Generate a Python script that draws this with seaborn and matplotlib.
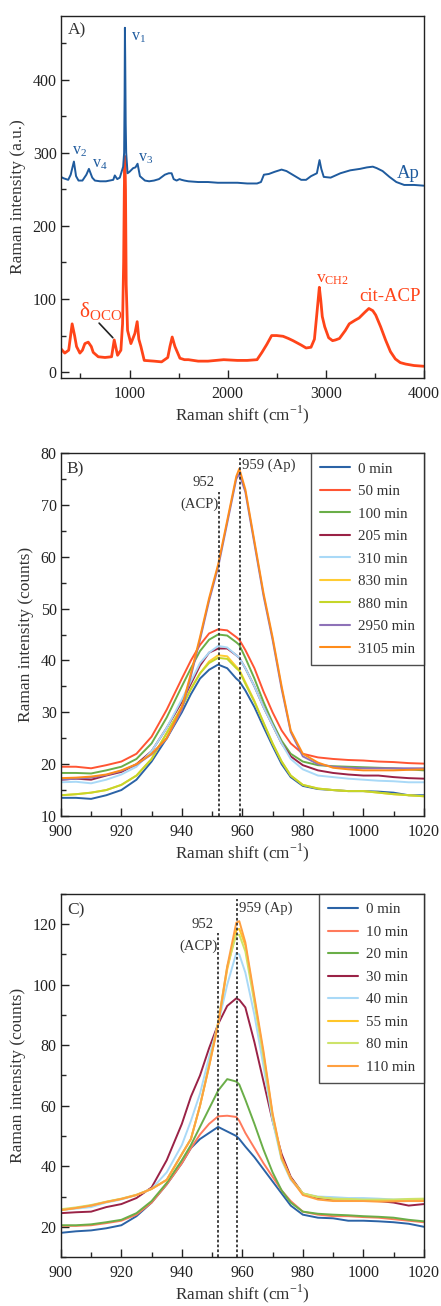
import numpy as np
import pandas as pd
import matplotlib
matplotlib.use("Agg")
import matplotlib.pyplot as plt
import seaborn as sns

# ---- panel A: full spectra ----
ap_shift = [300, 330, 375, 400, 433, 455, 480, 520, 560, 586, 620, 647, 700, 760, 834, 850, 875,
            901, 935, 945, 950, 953, 956, 961, 966, 980, 1000, 1037, 1060, 1082, 1106, 1157, 1200,
            1250, 1300, 1360, 1400, 1429, 1450, 1480, 1510, 1530, 1560, 1600, 1700, 1800, 1900,
            2000, 2100, 2200, 2300, 2340, 2370, 2420, 2480, 2550, 2600, 2650, 2700, 2750, 2800,
            2850, 2910, 2937, 2955, 2980, 3050, 3150, 3250, 3350, 3420, 3480, 3520, 3580, 3650,
            3720, 3800, 3900, 4000]
ap_int = [267, 265, 263, 270, 288, 268, 262, 262, 270, 278, 266, 262, 261, 261, 263, 269, 264,
          266, 281, 300, 380, 471, 430, 340, 300, 272, 274, 279, 280, 285, 268, 262, 261,
          262, 264, 270, 272, 272, 264, 262, 264, 263, 262, 261, 260, 260, 259,
          259, 259, 258, 258, 260, 270, 271, 274, 277, 275, 271, 267, 263, 263,
          268, 272, 290, 278, 267, 266, 272, 276, 278, 280, 281, 279, 275, 267,
          260, 256, 256, 255]

acp_shift = [300, 340, 380, 415, 440, 460, 494, 520, 545, 579, 610, 630, 681, 750, 817, 844, 878,
             912, 929, 940, 947, 953, 959, 966, 980, 1014, 1055, 1078, 1095, 1116, 1150, 1250,
             1327, 1390, 1412, 1435, 1463, 1514, 1560, 1600, 1700, 1800, 1960, 2100, 2200, 2300,
             2350, 2400, 2449, 2500, 2565, 2620, 2667, 2750, 2800, 2850, 2885, 2910, 2935, 2950,
             2965, 2990, 3030, 3070, 3100, 3140, 3200, 3240, 3300, 3340, 3400, 3440, 3480, 3510,
             3560, 3610, 3660, 3710, 3760, 3815, 3900, 4000]
acp_int = [32, 26, 30, 66, 50, 35, 26, 30, 39, 41, 35, 27, 21, 20, 21, 44, 23,
           30, 66, 150, 250, 295, 250, 120, 57, 39, 53, 69, 45, 35, 16, 15,
           14, 20, 35, 48, 35, 19, 17, 17, 15, 15, 17, 16, 16, 17,
           27, 38, 50, 50, 49, 46, 43, 37, 33, 34, 45, 80, 116, 98,
           76, 62, 47, 43, 44, 46, 57, 66, 71, 74, 82, 87, 84, 78,
           62, 44, 28, 18, 13, 11, 9, 8]

# ---- panels B and C: zoom on the v1 band ----
shift = [900, 905, 910, 915, 920, 925, 930, 935, 940, 943, 946, 949, 952, 955, 958, 959, 961,
         964, 967, 970, 973, 976, 980, 985, 990, 995, 1000, 1005, 1010, 1015, 1020]

b_series = {
    "0 min":    [13.5, 13.5, 13.3, 14.0, 15.0, 17.0, 20.5, 25.0, 30.0, 33.5, 36.5, 38.2, 39.2, 38.5, 36.5, 36.0, 34.2,
                 31.0, 27.2, 23.5, 20.0, 17.5, 15.8, 15.2, 15.0, 14.8, 14.8, 14.7, 14.5, 14.0, 14.0],
    "50 min":   [19.5, 19.5, 19.2, 19.8, 20.5, 22.0, 25.3, 30.5, 36.5, 40.0, 43.0, 45.2, 46.0, 45.8, 44.5, 44.0, 42.0,
                 38.5, 34.0, 30.0, 26.5, 24.0, 22.0, 21.3, 21.0, 20.8, 20.7, 20.5, 20.4, 20.2, 20.1],
    "100 min":  [18.3, 18.3, 18.2, 18.8, 19.5, 21.0, 24.0, 29.0, 35.0, 38.5, 41.8, 44.0, 45.0, 44.8, 43.5, 43.0, 40.5,
                 36.5, 32.0, 28.0, 24.5, 22.0, 20.5, 19.8, 19.6, 19.5, 19.4, 19.3, 19.2, 19.0, 18.8],
    "205 min":  [17.0, 17.2, 17.0, 17.8, 18.5, 20.0, 22.5, 27.0, 32.0, 35.5, 39.0, 41.5, 42.3, 42.3, 41.0, 40.5, 38.5,
                 35.0, 31.0, 27.5, 24.0, 21.5, 19.8, 18.8, 18.3, 18.0, 17.8, 17.8, 17.5, 17.3, 17.2],
    "310 min":  [16.5, 16.6, 16.3, 17.0, 18.0, 19.5, 22.5, 27.0, 32.5, 36.0, 39.5, 41.5, 42.8, 42.5, 41.0, 40.5, 38.5,
                 35.0, 31.0, 27.5, 24.0, 21.0, 19.0, 17.8, 17.5, 17.2, 17.0, 16.8, 16.7, 16.5, 16.5],
    "830 min":  [14.0, 14.2, 14.5, 15.0, 16.0, 17.8, 21.0, 26.0, 31.0, 34.5, 37.5, 39.8, 41.0, 40.8, 38.8, 38.2, 35.8,
                 32.2, 28.0, 24.0, 20.5, 17.8, 16.0, 15.3, 15.0, 14.8, 14.8, 14.5, 14.2, 14.0, 13.8],
    "880 min":  [14.0, 14.2, 14.5, 15.0, 16.0, 17.8, 21.0, 26.0, 31.0, 34.5, 37.5, 39.5, 40.5, 40.3, 38.5, 38.0, 35.5,
                 32.0, 28.0, 24.0, 20.5, 17.8, 16.0, 15.3, 15.0, 14.8, 14.8, 14.5, 14.2, 14.0, 13.8],
    "2950 min": [17.0, 17.2, 17.4, 17.9, 18.7, 19.9, 21.9, 24.9, 30.5, 37.0, 44.0, 51.5, 58.0, 66.5, 75.0, 76.0, 72.5,
                 62.5, 52.5, 44.0, 34.5, 26.2, 21.5, 20.0, 19.5, 19.3, 19.2, 19.2, 19.2, 19.2, 19.2],
    "3105 min": [17.3, 17.4, 17.6, 18.0, 18.8, 20.0, 22.0, 25.0, 31.0, 37.5, 44.5, 52.0, 58.5, 67.0, 75.5, 77.0, 73.0,
                 63.0, 53.0, 44.5, 35.0, 26.5, 22.0, 20.3, 19.3, 19.0, 18.8, 18.8, 18.8, 18.9, 19.0],
}
b_colors = ["#2b63a6", "#ff5533", "#6aae48", "#9a2246", "#a9d9f7",
            "#ffcc33", "#c5d629", "#8e72b8", "#ff8c1a"]

c_series = {
    "0 min":   [18.0, 18.5, 18.8, 19.5, 20.5, 23.5, 28.0, 34.0, 41.0, 46.0, 49.0, 51.0, 53.0, 51.5, 50.0, 49.0, 46.5,
                43.0, 39.0, 35.0, 31.0, 27.0, 24.0, 23.0, 22.8, 22.0, 22.0, 21.8, 21.5, 21.0, 20.0],
    "10 min":  [20.3, 20.3, 20.5, 21.2, 22.0, 24.0, 28.0, 34.0, 41.0, 46.0, 50.5, 54.0, 56.5, 56.7, 56.3, 55.0, 51.0,
                46.0, 41.0, 36.5, 32.0, 28.5, 25.0, 24.0, 23.5, 23.5, 23.2, 23.0, 22.5, 22.0, 21.5],
    "20 min":  [20.5, 20.5, 20.8, 21.5, 22.3, 24.5, 28.5, 34.5, 42.0, 47.0, 53.0, 59.0, 65.0, 68.8, 68.0, 67.0, 62.0,
                54.0, 45.5, 38.0, 32.0, 28.0, 25.0, 24.3, 24.0, 23.8, 23.5, 23.3, 23.0, 22.3, 21.8],
    "30 min":  [24.5, 24.8, 25.0, 26.5, 27.5, 29.5, 33.0, 42.0, 54.0, 63.0, 70.0, 79.0, 87.0, 93.0, 95.5, 95.0, 92.5,
                81.0, 68.0, 55.0, 44.0, 36.5, 31.0, 29.5, 29.0, 29.0, 28.8, 28.5, 28.0, 27.0, 27.5],
    "40 min":  [25.5, 26.0, 26.5, 28.0, 29.0, 30.5, 32.5, 38.0, 47.0, 55.0, 64.0, 76.0, 87.0, 100.0, 110.5, 110.0, 104.0,
                90.0, 73.0, 55.0, 42.0, 35.5, 31.0, 30.0, 29.8, 29.5, 29.5, 29.3, 29.0, 29.0, 29.0],
    "55 min":  [25.5, 26.2, 27.0, 28.2, 29.2, 30.5, 32.5, 35.5, 44.0, 49.0, 60.0, 73.0, 87.0, 105.0, 118.0, 118.5, 113.0,
                95.0, 77.0, 57.0, 42.5, 36.0, 31.0, 29.8, 29.2, 29.0, 28.8, 28.8, 28.8, 28.9, 29.0],
    "80 min":  [25.8, 26.4, 27.2, 28.3, 29.3, 30.6, 32.5, 35.5, 44.0, 49.0, 60.0, 73.5, 87.5, 106.0, 116.5, 116.5, 111.0,
                94.0, 76.0, 56.5, 42.5, 36.0, 31.0, 29.8, 29.3, 29.2, 29.0, 29.0, 29.0, 29.2, 29.3],
    "110 min": [25.5, 26.2, 27.0, 28.2, 29.2, 30.5, 32.5, 35.5, 44.0, 49.0, 60.0, 73.0, 87.0, 106.0, 120.5, 121.0, 114.0,
                96.0, 78.0, 57.5, 43.0, 36.0, 30.5, 29.0, 28.5, 28.5, 28.5, 28.3, 28.4, 28.5, 28.5],
}
c_colors = ["#2b63a6", "#ff7a5c", "#6aae48", "#9a2246", "#a9d9f7",
            "#ffc629", "#cde36a", "#ffa040"]

# ---- style ----
sns.set_theme(style="ticks")
plt.rcParams["font.family"] = ["Liberation Serif", "DejaVu Serif"]
plt.rcParams["mathtext.fontset"] = "custom"
plt.rcParams["mathtext.rm"] = "Liberation Serif"
plt.rcParams["xtick.direction"] = "in"
plt.rcParams["ytick.direction"] = "in"
plt.rcParams["axes.edgecolor"] = "#222222"
plt.rcParams["axes.linewidth"] = 1.0

TXT = "#333333"
fig = plt.figure(figsize=(4.41, 13.06), dpi=100)
axA = fig.add_axes([0.138, 0.7106, 0.823, 0.2771])
axB = fig.add_axes([0.138, 0.3752, 0.823, 0.2779])
axC = fig.add_axes([0.138, 0.0375, 0.823, 0.2780])


def style_axis(ax, xmaj, xmin, ymaj, ymin):
    ax.xaxis.set_major_locator(plt.MultipleLocator(xmaj))
    ax.xaxis.set_minor_locator(plt.MultipleLocator(xmin))
    ax.yaxis.set_major_locator(plt.MultipleLocator(ymaj))
    ax.yaxis.set_minor_locator(plt.MultipleLocator(ymin))
    ax.tick_params(which="major", length=6, width=1, labelsize=11.5, colors="#222222")
    ax.tick_params(which="minor", length=3.5, width=1)
    ax.tick_params(axis="x", which="major", pad=6)
    ax.tick_params(axis="y", which="major", pad=3)
    ax.set_xlabel("Raman shift (cm$^{-1}$)", fontsize=12.3, color=TXT, labelpad=1)


# ---- A ----
sns.lineplot(x=acp_shift, y=acp_int, ax=axA, color="#ff4419", lw=2.0, estimator=None, sort=False)
sns.lineplot(x=ap_shift, y=ap_int, ax=axA, color="#1f5b9e", lw=1.4, estimator=None, sort=False)
axA.set_xlim(300, 4000)
axA.set_ylim(-8, 487)
style_axis(axA, 1000, 500, 100, 50)
axA.set_ylabel("Raman intensity (a.u.)", fontsize=12.5, color=TXT, labelpad=5)
blue = "#1f5b9e"
red = "#ff4419"
axA.text(370, 468, "A)", fontsize=12.5, color=TXT, va="center")
axA.text(1020, 458, r"$\mathregular{v_1}$", fontsize=11.5, color=blue, va="center")
axA.text(410, 302, r"$\mathregular{v_2}$", fontsize=11.5, color=blue, va="center")
axA.text(620, 285, r"$\mathregular{v_4}$", fontsize=11.5, color=blue, va="center")
axA.text(1090, 293, r"$\mathregular{v_3}$", fontsize=11.5, color=blue, va="center")
axA.text(3960, 272, "Ap", fontsize=13.5, color=blue, va="center", ha="right")
axA.text(490, 84, r"$\mathregular{δ_{OCO}}$", fontsize=15.5, color=red, va="center")
axA.plot([690, 830], [67, 47], color="#222222", lw=1.2)
axA.text(2900, 127, r"$\mathregular{v_{CH2}}$", fontsize=12.5, color=red, va="center")
axA.text(3970, 103, "cit-ACP", fontsize=13.5, color=red, va="center", ha="right")


def band_panel(ax, series, colors, ylim, ymaj, ymin, tag, line_a, line_b, top_a, ytxt):
    rows = []
    for name, vals in series.items():
        rows.append(pd.DataFrame({"shift": shift, "intensity": vals, "time": name}))
    df = pd.concat(rows, ignore_index=True)
    order = list(series.keys())
    sns.lineplot(data=df, x="shift", y="intensity", hue="time", hue_order=order,
                 palette=dict(zip(order, colors)), lw=1.4, estimator=None, sort=False, ax=ax)
    ax.set_xlim(900, 1020)
    ax.set_ylim(*ylim)
    style_axis(ax, 20, 10, ymaj, ymin)
    ax.set_ylabel("Raman intensity (counts)", fontsize=12.5, color=TXT, labelpad=5)
    span = ylim[1] - ylim[0]
    ax.axvline(line_a, ymin=0, ymax=(top_a - ylim[0]) / span, color="#333333", ls=(0, (1.5, 1.2)), lw=1.3)
    ax.axvline(line_b, ymin=0, ymax=0.985, color="#333333", ls=(0, (1.5, 1.2)), lw=1.3)
    ax.text(902, ylim[1] - span * 0.045, tag, fontsize=12.5, color=TXT, va="center")
    ax.text(line_a - 1.6, ytxt[0], "952", fontsize=10.5, color=TXT, ha="right", va="center")
    ax.text(line_a - 0.3, ytxt[1], "(ACP)", fontsize=10.5, color=TXT, ha="right", va="center")
    ax.text(line_b + 0.6, ytxt[2], "959 (Ap)", fontsize=10.5, color=TXT, ha="left", va="center")
    handles, labels = ax.get_legend_handles_labels()
    leg = ax.legend(handles, labels, loc="upper right", borderaxespad=0, fontsize=10.8,
                    frameon=True, fancybox=False, edgecolor="#222222", handlelength=2.0,
                    labelspacing=0.6, handletextpad=0.5, borderpad=0.6)
    leg.get_frame().set_linewidth(1.0)
    for t in leg.get_texts():
        t.set_color(TXT)
    for h in leg.get_lines():
        h.set_linewidth(1.5)


band_panel(axB, b_series, b_colors, (10, 80), 10, 5, "B)", 952.3, 959.2, 72.4, (74.4, 70.2, 77.6))
band_panel(axC, c_series, c_colors, (10, 130), 20, 10, "C)", 952.0, 958.3, 117.0, (119.8, 112.8, 125.4))

fig.savefig("out.png", dpi=100, facecolor="white")
